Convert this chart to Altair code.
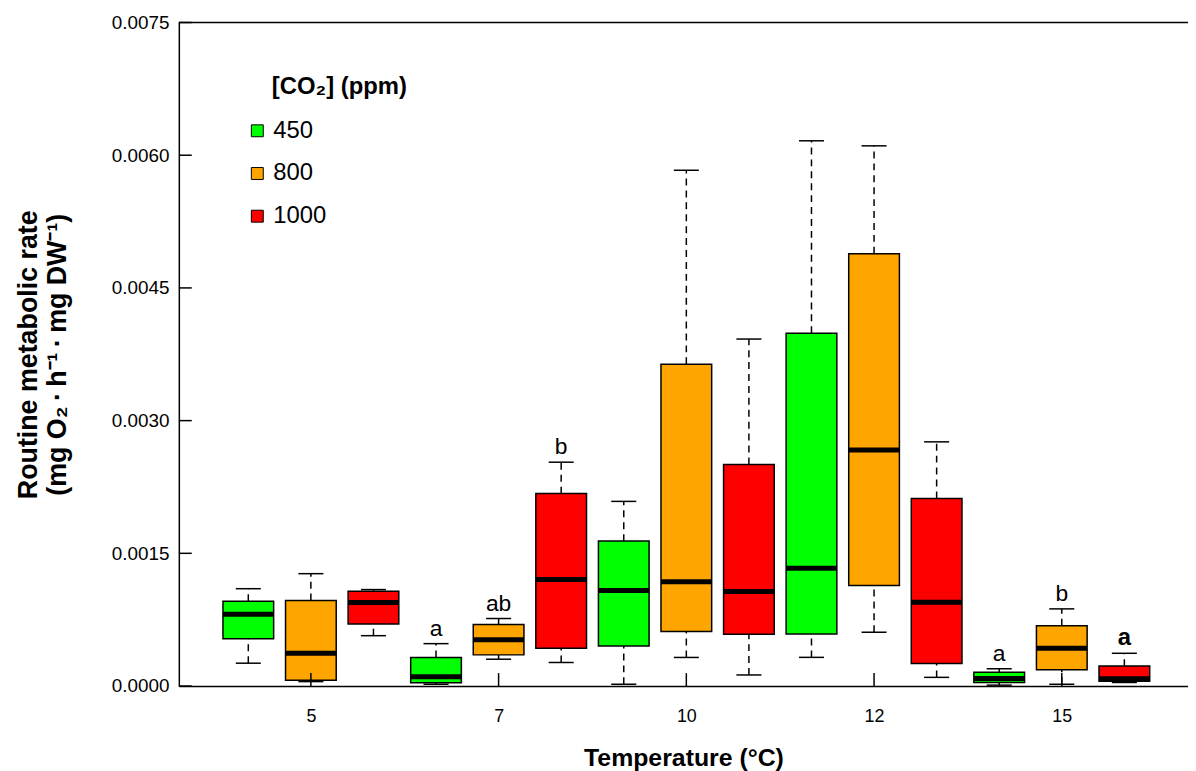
import altair as alt
import pandas as pd

# ---------------- data ----------------
temps = ["5", "7", "10", "12", "15"]
co2_levels = ["450", "800", "1000"]
box_colors = ["#00ff00", "#ffa500", "#ff0000"]

# one entry per box: temperature-major, CO2-minor
lower  = [0.000258, 0.000050, 0.000569,
          0.000020, 0.000303, 0.000266,
          0.000020, 0.000323, 0.000125,
          0.000324, 0.000608, 0.000098,
          0.000010, 0.000020, 0.000040]
q1     = [0.000535, 0.000064, 0.000700,
          0.000037, 0.000352, 0.000427,
          0.000452, 0.000617, 0.000585,
          0.000588, 0.001136, 0.000255,
          0.000040, 0.000183, 0.000053]
median = [0.000812, 0.000371, 0.000943,
          0.000105, 0.000524, 0.001205,
          0.001080, 0.001178, 0.001069,
          0.001331, 0.002669, 0.000947,
          0.000085, 0.000427, 0.000082]
q3     = [0.000958, 0.000966, 0.001070,
          0.000322, 0.000696, 0.002175,
          0.001638, 0.003637, 0.002505,
          0.003988, 0.004886, 0.002121,
          0.000157, 0.000681, 0.000225]
upper  = [0.001100, 0.001270, 0.001090,
          0.000479, 0.000763, 0.002530,
          0.002087, 0.005830, 0.003922,
          0.006163, 0.006106, 0.002760,
          0.000195, 0.000872, 0.000370]

letters = ["a", "ab", "b", "a", "b", "a"]
letter_box = [4, 5, 6, 13, 14, 15]
letter_bold = [False, False, False, False, False, True]

y_ticks = [0.0, 0.0015, 0.0030, 0.0045, 0.0060, 0.0075]
x_tick_pos = [2, 5, 8, 11, 14]

# ---------------- tables ----------------
n = len(median)
df = pd.DataFrame({
    "pos": [i + 1 for i in range(n)],
    "temp": [temps[i // 3] for i in range(n)],
    "co2": [co2_levels[i % 3] for i in range(n)],
    "lower": lower, "q1": q1, "median": median, "q3": q3, "upper": upper,
})
df_letters = pd.DataFrame({
    "pos": letter_box,
    "y": [upper[p - 1] for p in letter_box],
    "label": letters,
    "bold": letter_bold,
})
df_xt = pd.DataFrame({"tp": x_tick_pos})
df_yt = pd.DataFrame({"yt": y_ticks})
df_one = pd.DataFrame({"d": [0]})

W, H = 1016, 668
FONT = "Liberation Sans"

label_map = "{" + ",".join(f"'{p}':'{t}'" for p, t in zip(x_tick_pos, temps)) + "}"

xscale = alt.Scale(domain=[-0.11, -0.11 + W / 63.0], nice=False, zero=False)
yscale = alt.Scale(domain=[0, 0.0075], nice=False, zero=True)

xaxis = alt.Axis(values=x_tick_pos, labelExpr=f"{label_map}[datum.value]",
                 ticks=False, grid=False, title="Temperature (°C)",
                 labelPadding=22, labelFontSize=18, titleFontSize=25,
                 titleFontWeight="bold", titlePadding=20)
yaxis = alt.Axis(values=y_ticks, format=".4f", ticks=False, grid=False,
                 title=["Routine metabolic rate",
                        "(mg O₂\u2009·\u2009h⁻¹\u2009·\u2009mg DW⁻¹)"],
                 labelPadding=10, labelFontSize=19, titleFontSize=27,
                 titleFontWeight="bold", titlePadding=40, titleLineHeight=29)


def X(f):
    return alt.X(f"{f}:Q", scale=xscale, axis=xaxis)


def Y(f):
    return alt.Y(f"{f}:Q", scale=yscale, axis=yaxis)


base = alt.Chart(df).transform_calculate(
    xl="datum.pos - 0.405", xr="datum.pos + 0.405",
    cl="datum.pos - 0.2", cr="datum.pos + 0.2",
)

whisk_up = base.mark_rule(color="black", strokeWidth=1.5, strokeDash=[7, 5]).encode(
    x=X("pos"), y=Y("q3"), y2="upper:Q")
whisk_lo = base.mark_rule(color="black", strokeWidth=1.5, strokeDash=[7, 5]).encode(
    x=X("pos"), y=Y("lower"), y2="q1:Q")
cap_up = base.mark_rule(color="black", strokeWidth=1.5).encode(
    x=X("cl"), x2="cr:Q", y=Y("upper"))
cap_lo = base.mark_rule(color="black", strokeWidth=1.5).encode(
    x=X("cl"), x2="cr:Q", y=Y("lower"))

boxes = base.mark_rect(stroke="black", strokeWidth=1.5, opacity=1).encode(
    x=X("xl"), x2="xr:Q", y=Y("q1"), y2="q3:Q",
    color=alt.Color("co2:N",
                    scale=alt.Scale(domain=co2_levels, range=box_colors),
                    legend=alt.Legend(
                        title="\u200b\u00a0\u00a0\u00a0\u00a0[CO₂] (ppm)",
                        orient="none", legendX=67, legendY=53,
                        symbolType="square", symbolSize=144,
                        symbolStrokeColor="black", symbolStrokeWidth=1,
                        symbolOpacity=1,
                        labelFontSize=24, labelFont=FONT, labelColor="black",
                        titleFontSize=24, titleFont=FONT, titleFontWeight="bold",
                        titleColor="black", titlePadding=20, rowPadding=19,
                        labelOffset=4, padding=0)))

medians = base.mark_rule(color="black", strokeWidth=5, strokeCap="butt").encode(
    x=X("xl"), x2="xr:Q", y=Y("median"))

txt_norm = alt.Chart(df_letters).transform_filter("!datum.bold").mark_text(
    baseline="alphabetic", dy=-8, fontSize=23, font=FONT, color="black").encode(
    x=X("pos"), y=Y("y"), text="label:N")
txt_bold = alt.Chart(df_letters).transform_filter("datum.bold").mark_text(
    baseline="alphabetic", dy=-8, fontSize=24, font=FONT, fontWeight="bold",
    color="black").encode(
    x=X("pos"), y=Y("y"), text="label:N")

xticks = alt.Chart(df_xt).mark_rule(color="black", strokeWidth=1.5).encode(
    x=X("tp"), y=alt.value(H), y2=alt.value(H - 13))
yticks = alt.Chart(df_yt).mark_rule(color="black", strokeWidth=1.5).encode(
    y=Y("yt"), x=alt.value(0), x2=alt.value(13))
top_line = alt.Chart(df_one).mark_rule(color="black", strokeWidth=1.5).encode(
    x=alt.value(0), x2=alt.value(W), y=alt.value(0))

chart = alt.layer(
    whisk_up, whisk_lo, cap_up, cap_lo, boxes, medians,
    txt_norm, txt_bold, xticks, yticks, top_line,
).properties(
    width=W, height=H,
    autosize=alt.AutoSizeParams(type="none"),
    padding={"left": 172, "top": 12, "right": 0, "bottom": 92},
).configure(font=FONT).configure_view(stroke=None).configure_axis(
    domainColor="black", domainWidth=1.5, labelColor="black",
    titleColor="black", labelFont=FONT, titleFont=FONT,
)

chart.save("out.html", embed_options={"renderer": "svg", "actions": False})
